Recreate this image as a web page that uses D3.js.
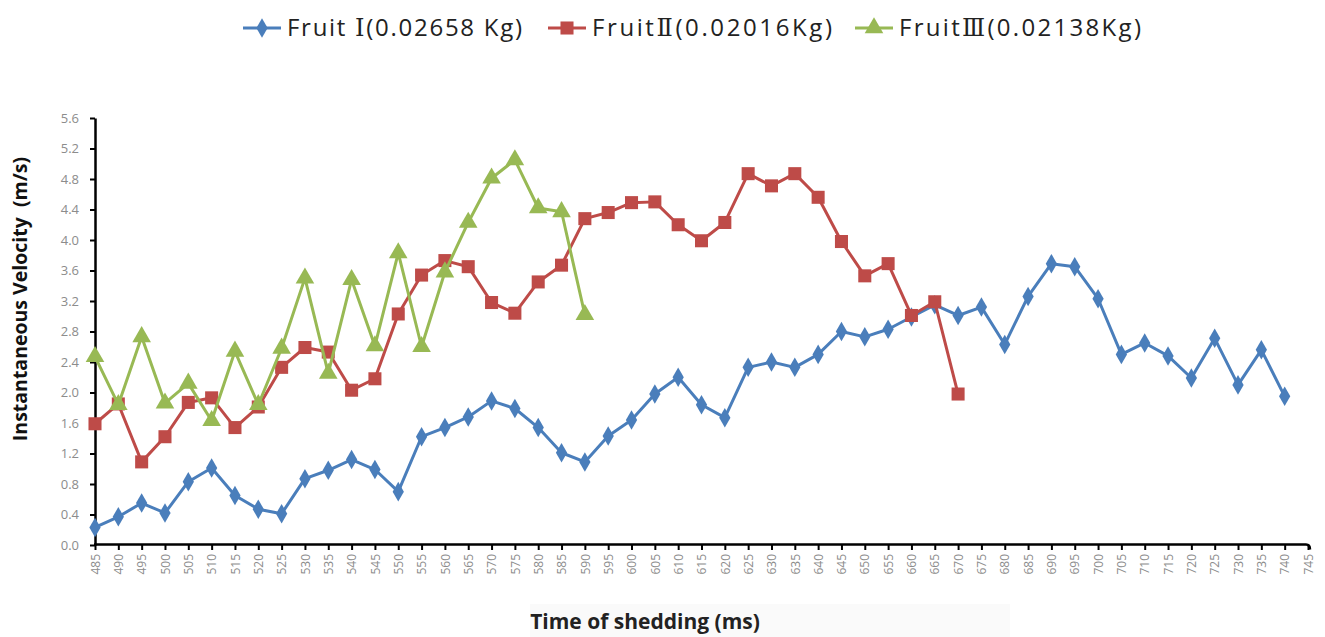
<!DOCTYPE html>
<html><head><meta charset="utf-8">
<script src="https://cdn.jsdelivr.net/npm/d3@7"></script>
<style>body{margin:0;background:#fff;} svg{display:block;}</style>
</head><body>
<svg id="chart" width="1325" height="637"></svg>
<script>
const categories = [485,490,495,500,505,510,515,520,525,530,535,540,545,550,555,560,565,570,575,580,585,590,595,600,605,610,615,620,625,630,635,640,645,650,655,660,665,670,675,680,685,690,695,700,705,710,715,720,725,730,735,740,745];
const fruit1 = [0.23,0.37,0.55,0.42,0.83,1.01,0.65,0.47,0.41,0.87,0.98,1.12,0.99,0.70,1.42,1.54,1.68,1.89,1.79,1.54,1.21,1.09,1.43,1.64,1.98,2.20,1.84,1.67,2.33,2.40,2.33,2.50,2.80,2.73,2.83,2.99,3.15,3.01,3.12,2.63,3.26,3.69,3.65,3.23,2.50,2.65,2.48,2.19,2.71,2.10,2.56,1.95];
const fruit2 = [1.59,1.85,1.09,1.42,1.87,1.93,1.54,1.81,2.33,2.59,2.53,2.03,2.18,3.03,3.54,3.73,3.65,3.18,3.04,3.45,3.67,4.28,4.36,4.49,4.50,4.20,3.99,4.23,4.87,4.71,4.87,4.56,3.98,3.53,3.69,3.01,3.19,1.98];
const fruit3 = [2.47,1.84,2.73,1.86,2.12,1.63,2.54,1.84,2.58,3.50,2.25,3.48,2.61,3.83,2.60,3.58,4.23,4.81,5.05,4.42,4.37,3.02];
const yTicks = [0,0.4,0.8,1.2,1.6,2.0,2.4,2.8,3.2,3.6,4.0,4.4,4.8,5.2,5.6];
const seriesLabels = [["Fruit ","Ⅰ","(0.02658 Kg)"],["Fruit","Ⅱ","(0.02016Kg)"],["Fruit","Ⅲ","(0.02138Kg)"]];
const seriesColors = ["#4A7EBB","#BE4B48","#98B954"];
const seriesShapes = [d3.symbolDiamond, d3.symbolSquare, d3.symbolTriangle];
const seriesSizes = [110, 170, 150];
const seriesData = [fruit1, fruit2, fruit3];

const svg = d3.select("#chart");
const x = d3.scalePoint().domain(categories).range([95, 1308]);
const y = d3.scaleLinear().domain([0, 5.6]).range([545, 118]);

// faint box behind x title
svg.append("rect").attr("x", 530).attr("y", 604).attr("width", 480).attr("height", 33).attr("fill", "#fafafa");

// Y axis
const yAxis = svg.append("g").attr("transform", "translate(95,0)")
  .call(d3.axisLeft(y).tickValues(yTicks).tickFormat(d3.format(".1f")).tickSize(5).tickSizeOuter(0));
yAxis.select(".domain").attr("stroke", "#000").attr("stroke-width", 2.5);
yAxis.selectAll(".tick line").attr("stroke", "#000").attr("stroke-width", 2);
yAxis.selectAll(".tick text").attr("fill", "#8c8c8c").attr("font-size", 13)
  .attr("font-family", "'Open Sans', sans-serif").attr("x", -16);

// X axis
const xAxis = svg.append("g").attr("transform", "translate(0,545)")
  .call(d3.axisBottom(x).tickSize(5).tickSizeOuter(0));
xAxis.select(".domain").attr("stroke", "#000").attr("stroke-width", 2.5)
  .attr("d", "M94,-0.5H1306q4,0 4,5");
xAxis.selectAll(".tick line").attr("stroke", "#000").attr("stroke-width", 2);
xAxis.selectAll(".tick text").attr("fill", "#8c8c8c").attr("font-size", 12)
  .attr("font-family", "'Open Sans', sans-serif")
  .attr("transform", "rotate(-90)").attr("text-anchor", "end")
  .attr("x", -9).attr("y", 0).attr("dy", "0.35em");

// Axis titles
svg.append("text").attr("transform", "translate(27,299) rotate(-90)")
  .attr("text-anchor", "middle").attr("font-family", "'Open Sans', sans-serif")
  .attr("font-weight", "bold").attr("font-size", 19.5).attr("fill", "#111")
  .attr("xml:space", "preserve")
  .text("Instantaneous Velocity\u00A0\u00A0(m/s)");
svg.append("text").attr("x", 645).attr("y", 629)
  .attr("text-anchor", "middle").attr("font-family", "'Open Sans', sans-serif")
  .attr("font-weight", "bold").attr("font-size", 21).attr("fill", "#222")
  .text("Time of shedding (ms)");

// Series
const line = d3.line().x((d, i) => x(categories[i])).y(d => y(d));
seriesData.forEach((data, k) => {
  svg.append("path").datum(data).attr("d", line).attr("fill", "none")
    .attr("stroke", seriesColors[k]).attr("stroke-width", 3).attr("stroke-linejoin", "round");
  svg.append("g").selectAll("path").data(data).join("path")
    .attr("transform", (d, i) => `translate(${x(categories[i])},${y(d)})`)
    .attr("d", d3.symbol().type(seriesShapes[k]).size(seriesSizes[k]))
    .attr("fill", seriesColors[k]);
});

// Legend
const legendX = [243, 548, 855];
const legendLen = [235, 240, 242];
seriesLabels.forEach((parts, k) => {
  const g = svg.append("g").attr("transform", `translate(${legendX[k]},28)`);
  g.append("line").attr("x1", 0).attr("x2", 38).attr("y1", 0).attr("y2", 0)
    .attr("stroke", seriesColors[k]).attr("stroke-width", 3);
  g.append("path").attr("transform", "translate(19,0)")
    .attr("d", d3.symbol().type(seriesShapes[k]).size(seriesSizes[k])).attr("fill", seriesColors[k]);
  const t = g.append("text").attr("x", 44).attr("y", 0).attr("dy", "0.35em")
    .attr("font-family", "'Open Sans', sans-serif").attr("font-size", 24)
    .attr("fill", "#222").attr("xml:space", "preserve")
    .attr("textLength", legendLen[k]).attr("lengthAdjust", "spacing");
  t.append("tspan").text(parts[0]);
  t.append("tspan").attr("font-family", "'DejaVu Serif', 'Liberation Serif', serif").text(parts[1]);
  t.append("tspan").text(parts[2]);
});
</script>
</body></html>
